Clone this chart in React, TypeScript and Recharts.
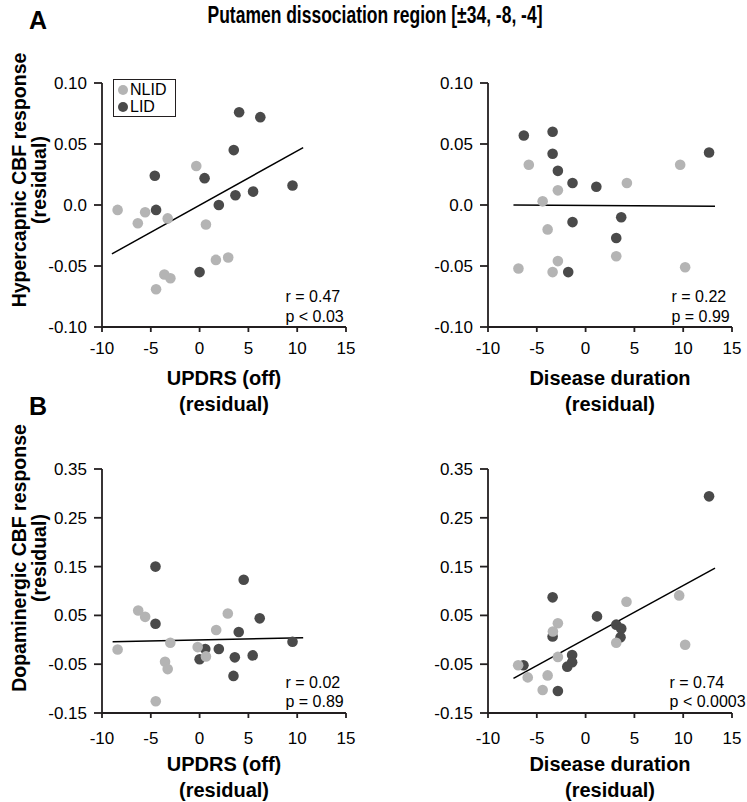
/**
 * Putamen dissociation region: CBF response vs UPDRS / disease duration
 */

import {
  ScatterChart, Scatter, XAxis, YAxis, ReferenceLine, ReferenceDot, Legend,
} from 'recharts';

type Pt = { x: number; y: number };

const FONT = '"Liberation Sans", Arial, Helvetica, sans-serif';
const NLID_COLOR = '#b4b4b4';
const LID_COLOR = '#4a4a4a';
const INK = '#231f20';

const X_TICKS = [-10, -5, 0, 5, 10, 15];
const Y_TICKS_A = [-0.1, -0.05, 0, 0.05, 0.1];
const Y_TICKS_B = [-0.15, -0.05, 0.05, 0.15, 0.25, 0.35];
const LEGEND_ORDER = ['NLID', 'LID'];

/** A 左：UPDRS vs 高碳酸 CBF */
const A_UPDRS_NLID: Pt[] = [
  { x: -8.4, y: -0.004 }, { x: -6.33, y: -0.015 }, { x: -5.58, y: -0.006 }, { x: -3.27, y: -0.011 },
  { x: -0.34, y: 0.032 }, { x: 0.65, y: -0.016 }, { x: 1.67, y: -0.045 }, { x: 2.93, y: -0.043 },
  { x: -3.61, y: -0.057 }, { x: -2.99, y: -0.06 }, { x: -4.46, y: -0.069 },
];
const A_UPDRS_LID: Pt[] = [
  { x: -4.59, y: 0.024 }, { x: -4.46, y: -0.004 }, { x: 0.51, y: 0.022 }, { x: 1.97, y: 0.0 },
  { x: 0.0, y: -0.055 }, { x: 3.67, y: 0.008 }, { x: 3.5, y: 0.045 }, { x: 4.05, y: 0.076 },
  { x: 6.22, y: 0.072 }, { x: 5.48, y: 0.011 }, { x: 9.52, y: 0.016 },
];
const A_UPDRS_FIT: Pt[] = [{ x: -8.98, y: -0.04 }, { x: 10.61, y: 0.047 }];

/** A 右：病程 vs 高碳酸 CBF */
const A_DURATION_NLID: Pt[] = [
  { x: -6.88, y: -0.052 }, { x: -5.82, y: 0.033 }, { x: -4.4, y: 0.003 }, { x: -2.84, y: 0.012 },
  { x: -3.89, y: -0.02 }, { x: -2.84, y: -0.046 }, { x: -3.38, y: -0.055 }, { x: 3.14, y: -0.042 },
  { x: 4.23, y: 0.018 }, { x: 9.69, y: 0.033 }, { x: 10.2, y: -0.051 },
];
const A_DURATION_LID: Pt[] = [
  { x: -6.33, y: 0.057 }, { x: -3.38, y: 0.06 }, { x: -3.38, y: 0.042 }, { x: -2.84, y: 0.028 },
  { x: -1.34, y: 0.018 }, { x: 1.1, y: 0.015 }, { x: -1.34, y: -0.014 }, { x: 3.65, y: -0.01 },
  { x: 3.14, y: -0.027 }, { x: -1.78, y: -0.055 }, { x: 12.65, y: 0.043 },
];
const A_DURATION_FIT: Pt[] = [{ x: -7.39, y: 0.0 }, { x: 13.26, y: -0.001 }];

/** B 左：UPDRS vs 多巴胺能 CBF */
const B_UPDRS_NLID: Pt[] = [
  { x: -8.4, y: -0.02 }, { x: -6.29, y: 0.06 }, { x: -5.58, y: 0.047 }, { x: -3.0, y: -0.006 },
  { x: -3.54, y: -0.045 }, { x: -3.27, y: -0.06 }, { x: -4.49, y: -0.126 }, { x: -0.2, y: -0.015 },
  { x: 0.65, y: -0.034 }, { x: 1.7, y: 0.02 }, { x: 2.89, y: 0.054 },
];
const B_UPDRS_LID: Pt[] = [
  { x: -4.52, y: 0.15 }, { x: -4.52, y: 0.033 }, { x: 0.58, y: -0.019 }, { x: 0.0, y: -0.04 },
  { x: 1.97, y: -0.019 }, { x: 4.01, y: 0.016 }, { x: 4.52, y: 0.123 }, { x: 6.16, y: 0.044 },
  { x: 3.61, y: -0.036 }, { x: 5.44, y: -0.032 }, { x: 3.47, y: -0.074 }, { x: 9.52, y: -0.004 },
];
const B_UPDRS_FIT: Pt[] = [{ x: -8.91, y: -0.004 }, { x: 10.61, y: 0.004 }];

/** B 右：病程 vs 多巴胺能 CBF */
const B_DURATION_NLID: Pt[] = [
  { x: -6.91, y: -0.052 }, { x: -5.93, y: -0.077 }, { x: -4.4, y: -0.103 }, { x: -3.89, y: -0.073 },
  { x: -2.84, y: 0.034 }, { x: -3.35, y: 0.017 }, { x: -2.84, y: -0.035 }, { x: 4.19, y: 0.078 },
  { x: 3.14, y: -0.006 }, { x: 9.59, y: 0.091 }, { x: 10.2, y: -0.01 },
];
const B_DURATION_LID: Pt[] = [
  { x: -6.37, y: -0.052 }, { x: -3.38, y: 0.087 }, { x: -3.38, y: 0.007 }, { x: -1.38, y: -0.031 },
  { x: -1.38, y: -0.046 }, { x: -1.88, y: -0.055 }, { x: -2.84, y: -0.105 }, { x: 1.17, y: 0.048 },
  { x: 3.14, y: 0.031 }, { x: 3.65, y: 0.023 }, { x: 3.58, y: 0.005 }, { x: 12.65, y: 0.294 },
];
const B_DURATION_FIT: Pt[] = [{ x: -7.39, y: -0.079 }, { x: 13.26, y: 0.147 }];

const STATS_A_UPDRS = ['r = 0.47', 'p < 0.03'];
const STATS_A_DURATION = ['r = 0.22', 'p = 0.99'];
const STATS_B_UPDRS = ['r = 0.02', 'p = 0.89'];
const STATS_B_DURATION = ['r = 0.74', 'p < 0.0003'];

const Y_TITLE_A = ['Hypercapnic CBF response', '(residual)'];
const Y_TITLE_B = ['Dopaminergic CBF response', '(residual)'];
const X_TITLE_UPDRS = ['UPDRS (off)', '(residual)'];
const X_TITLE_DURATION = ['Disease duration', '(residual)'];

const fmtY = (v: number) => (v === 0 ? '0.0' : v.toFixed(2));

function Dot(props: any) {
  const { cx, cy, fill } = props;
  if (cx == null || cy == null) return null;
  return <circle cx={cx} cy={cy} r={5.3} fill={fill} />;
}

function XTitle({ viewBox, lines }: any) {
  if (!viewBox) return null;
  const cx = viewBox.x + viewBox.width / 2;
  return (
    <g>
      {lines.map((t: string, i: number) => (
        <text key={i} x={cx} y={viewBox.y + 51 + i * 26} textAnchor="middle" dominantBaseline="central"
          fontFamily={FONT} fontSize={20} fontWeight="bold" fill="#000">{t}</text>
      ))}
    </g>
  );
}

function YTitle({ viewBox, lines, shift }: any) {
  if (!viewBox) return null;
  const cy = viewBox.y + viewBox.height / 2 - shift;
  return (
    <g>
      {lines.map((t: string, i: number) => {
        const x = viewBox.x + 19 + i * 20;
        return (
          <text key={i} x={x} y={cy} transform={`rotate(-90, ${x}, ${cy})`} textAnchor="middle"
            dominantBaseline="central" fontFamily={FONT} fontSize={19.5} fontWeight="bold" fill="#000">{t}</text>
        );
      })}
    </g>
  );
}

function StatNote({ viewBox, lines }: any) {
  if (!viewBox) return null;
  return (
    <g>
      {lines.map((t: string, i: number) => (
        <text key={i} x={viewBox.x} y={viewBox.y + i * 19.5} dominantBaseline="central"
          fontFamily={FONT} fontSize={16} fill="#000">{t}</text>
      ))}
    </g>
  );
}

function GroupLegend({ payload }: any) {
  const items = LEGEND_ORDER.map((n) => (payload || []).find((e: any) => e.value === n)).filter(Boolean);
  return (
    <div style={{ border: `1.5px solid ${INK}`, width: 57, padding: '2px 0 1px 4px', fontFamily: FONT, fontSize: 16, background: '#fff' }}>
      {items.map((e: any) => (
        <div key={e.value} style={{ display: 'flex', alignItems: 'center', height: 16.5, color: '#000' }}>
          <span style={{ display: 'inline-block', width: 10, height: 10, borderRadius: '50%', background: e.color, marginRight: 2 }} />
          {e.value}
        </div>
      ))}
    </div>
  );
}

interface PanelProps {
  left: number; top: number; width: number;
  nlid: Pt[]; lid: Pt[]; fit: Pt[];
  yTicks: number[]; yTitle?: string[]; xTitle: string[];
  stats: string[]; statAt: Pt; tickMargin: number; titleShift?: number; legend?: boolean;
}

function Panel(p: PanelProps) {
  const yDomain = [p.yTicks[0], p.yTicks[p.yTicks.length - 1]];
  const tick = { fill: '#000', fontSize: 17, fontFamily: FONT };
  return (
    <div style={{ position: 'absolute', left: p.left, top: p.top }}>
      <ScatterChart width={p.width} height={382} margin={{ top: 50, right: p.width - 346, bottom: 0, left: 0 }}>
        <XAxis type="number" dataKey="x" domain={[-10, 15]} ticks={X_TICKS} height={88}
          stroke={INK} strokeWidth={1.8} tickSize={5} tickMargin={p.tickMargin} tick={tick}
          label={<XTitle lines={p.xTitle} />} />
        <YAxis type="number" dataKey="y" domain={yDomain} ticks={p.yTicks} width={102} tickFormatter={fmtY}
          stroke={INK} strokeWidth={1.8} tickSize={8} tickMargin={7} tick={tick}
          label={p.yTitle ? <YTitle lines={p.yTitle} shift={p.titleShift ?? 25} /> : undefined} />
        <ReferenceLine segment={p.fit} stroke="#000" strokeWidth={1.5} />
        <Scatter name="LID" data={p.lid} fill={LID_COLOR} shape={<Dot />} isAnimationActive={false} />
        <Scatter name="NLID" data={p.nlid} fill={NLID_COLOR} shape={<Dot />} isAnimationActive={false} />
        <ReferenceDot x={p.statAt.x} y={p.statAt.y} r={0} fill="none" stroke="none"
          label={<StatNote lines={p.stats} />} />
        {p.legend && (
          <Legend layout="vertical" align="center" verticalAlign="middle" content={<GroupLegend />}
            wrapperStyle={{ left: 113, top: 46, width: 'auto' }} />
        )}
      </ScatterChart>
    </div>
  );
}

export default function App() {
  return (
    <div style={{ position: 'absolute', left: 0, top: 0, width: 747, height: 802, overflow: 'hidden', background: '#fff', fontFamily: FONT }}>
      <div style={{ position: 'absolute', left: 0, top: 1, width: 750, textAlign: 'center', fontWeight: 'bold', fontSize: 23, lineHeight: '28px', transform: 'scaleX(0.76)', transformOrigin: '375px 0' }}>
        Putamen dissociation region [±34, -8, -4]
      </div>
      <div style={{ position: 'absolute', left: 29, top: 8, fontWeight: 'bold', fontSize: 25, lineHeight: '25px' }}>A</div>
      <div style={{ position: 'absolute', left: 29, top: 394, fontWeight: 'bold', fontSize: 25, lineHeight: '25px' }}>B</div>

      <Panel left={0} top={33} width={380} nlid={A_UPDRS_NLID} lid={A_UPDRS_LID} fit={A_UPDRS_FIT}
        yTicks={Y_TICKS_A} yTitle={Y_TITLE_A} xTitle={X_TITLE_UPDRS} stats={STATS_A_UPDRS}
        statAt={{ x: 8.8, y: -0.075 }} tickMargin={10} titleShift={25} legend />
      <Panel left={386} top={33} width={360} nlid={A_DURATION_NLID} lid={A_DURATION_LID} fit={A_DURATION_FIT}
        yTicks={Y_TICKS_A} xTitle={X_TITLE_DURATION} stats={STATS_A_DURATION}
        statAt={{ x: 8.8, y: -0.075 }} tickMargin={10} />
      <Panel left={0} top={419} width={380} nlid={B_UPDRS_NLID} lid={B_UPDRS_LID} fit={B_UPDRS_FIT}
        yTicks={Y_TICKS_B} yTitle={Y_TITLE_B} xTitle={X_TITLE_UPDRS} stats={STATS_B_UPDRS}
        statAt={{ x: 8.8, y: -0.087 }} tickMargin={14} titleShift={33} />
      <Panel left={386} top={419} width={360} nlid={B_DURATION_NLID} lid={B_DURATION_LID} fit={B_DURATION_FIT}
        yTicks={Y_TICKS_B} xTitle={X_TITLE_DURATION} stats={STATS_B_DURATION}
        statAt={{ x: 8.6, y: -0.087 }} tickMargin={14} />
    </div>
  );
}
